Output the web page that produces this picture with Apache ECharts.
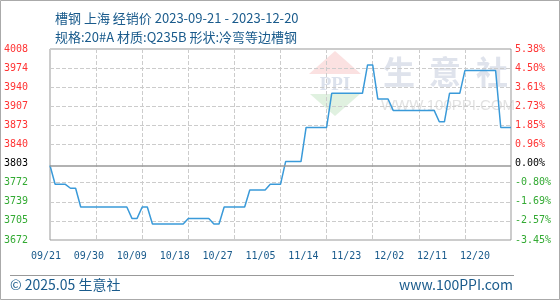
<!DOCTYPE html>
<html>
<head>
<meta charset="utf-8">
<script src="https://cdn.jsdelivr.net/npm/echarts@6/dist/echarts.min.js"></script>
<style>
  html, body { margin: 0; padding: 0; background: #fff; }
  #chart { width: 560px; height: 300px; }
</style>
</head>
<body>
<div id="chart"></div>
<script>
// daily dates 2023-09-21 .. 2023-12-20
const dates = [
  '09/21', '09/22', '09/23', '09/24', '09/25', '09/26', '09/27', '09/28', '09/29', '09/30',
  '10/01', '10/02', '10/03', '10/04', '10/05', '10/06', '10/07', '10/08', '10/09', '10/10',
  '10/11', '10/12', '10/13', '10/14', '10/15', '10/16', '10/17', '10/18', '10/19', '10/20',
  '10/21', '10/22', '10/23', '10/24', '10/25', '10/26', '10/27', '10/28', '10/29', '10/30',
  '10/31', '11/01', '11/02', '11/03', '11/04', '11/05', '11/06', '11/07', '11/08', '11/09',
  '11/10', '11/11', '11/12', '11/13', '11/14', '11/15', '11/16', '11/17', '11/18', '11/19',
  '11/20', '11/21', '11/22', '11/23', '11/24', '11/25', '11/26', '11/27', '11/28', '11/29',
  '11/30', '12/01', '12/02', '12/03', '12/04', '12/05', '12/06', '12/07', '12/08', '12/09',
  '12/10', '12/11', '12/12', '12/13', '12/14', '12/15', '12/16', '12/17', '12/18', '12/19',
  '12/20'
]

// 经销价 (元/吨)
const prices = [
  3803, 3770, 3770, 3770, 3763, 3763, 3730, 3730, 3730, 3730,
  3730, 3730, 3730, 3730, 3730, 3730, 3710, 3710, 3730, 3730,
  3700, 3700, 3700, 3700, 3700, 3700, 3700, 3710, 3710, 3710,
  3710, 3710, 3700, 3700, 3730, 3730, 3730, 3730, 3730, 3760,
  3760, 3760, 3760, 3770, 3770, 3770, 3810, 3810, 3810, 3810,
  3870, 3870, 3870, 3870, 3870, 3930, 3930, 3930, 3930, 3930,
  3930, 3930, 3980, 3980, 3920, 3920, 3920, 3900, 3900, 3900,
  3900, 3900, 3900, 3900, 3900, 3900, 3880, 3880, 3930, 3930,
  3930, 3970, 3970, 3970, 3970, 3970, 3970, 3970, 3870, 3870,
  3870
]

const basePrice = 3803
const dateTicks = ['09/21', '09/30', '10/09', '10/18', '10/27', '11/05', '11/14', '11/23', '12/02', '12/11', '12/20']
const priceTicks = ['3672', '3705', '3739', '3772', '3803', '3840', '3873', '3907', '3940', '3974', '4008']
const pctTicks = ['-3.45%', '-2.57%', '-1.69%', '-0.80%', '0.00%', '0.96%', '1.85%', '2.73%', '3.61%', '4.50%', '5.38%']

const blue = '#1a5b8c'
const mono = 'DejaVu Sans Mono'
const cjk = 'Noto Sans CJK SC'

function signColor(value) {
  const v = parseFloat(value)
  const base = String(value).indexOf('%') >= 0 ? 0 : basePrice
  if (v > base) return '#ff3333'
  if (v < base) return '#33aa33'
  return '#000'
}

// middle grid line is replaced by the solid base line
const splitColors = priceTicks.map((t, i) => i === 4 ? 'rgba(0,0,0,0)' : '#cccccc')

const chart = echarts.init(document.getElementById('chart'))
chart.setOption({
  animation: false,
  backgroundColor: '#fff',
  title: [{
    text: '槽钢 上海 经销价 2023-09-21 - 2023-12-20',
    left: 50,
    top: 7,
    textStyle: { fontSize: 13, fontWeight: 'normal', color: blue, fontFamily: cjk }
  }, {
    text: '规格:20#A 材质:Q235B 形状:冷弯等边槽钢',
    left: 50,
    top: 26,
    textStyle: { fontSize: 13, fontWeight: 'normal', color: blue, fontFamily: cjk }
  }],
  grid: [
    { left: 50, right: 49, top: 49, bottom: 60, show: true, borderColor: '#999', borderWidth: 1 },
    { left: 46, right: 85, top: 49, bottom: 60, show: false }
  ],
  xAxis: [{
    gridIndex: 0,
    type: 'category',
    data: dates,
    boundaryGap: false,
    axisLine: { show: false },
    axisTick: { show: false },
    axisLabel: { show: false },
    splitLine: { show: true, interval: 8, lineStyle: { type: 'dashed', color: '#cccccc' } }
  }, {
    gridIndex: 1,
    type: 'category',
    data: dateTicks,
    boundaryGap: false,
    axisLine: { show: false },
    axisTick: { show: false },
    splitLine: { show: false },
    axisLabel: { interval: 0, margin: 11, color: blue, fontSize: 10, fontFamily: mono }
  }],
  yAxis: [{
    gridIndex: 0,
    type: 'category',
    position: 'left',
    data: priceTicks,
    boundaryGap: false,
    axisLine: { show: false },
    axisTick: { show: false },
    axisLabel: { interval: 0, margin: 22, fontSize: 10, fontFamily: mono, color: signColor },
    splitLine: { show: true, interval: 0, lineStyle: { type: 'dashed', color: splitColors } }
  }, {
    gridIndex: 0,
    type: 'category',
    position: 'right',
    data: pctTicks,
    boundaryGap: false,
    axisLine: { show: false },
    axisTick: { show: false },
    axisLabel: { interval: 0, margin: 4, fontSize: 10, fontFamily: mono, color: signColor },
    splitLine: { show: false }
  }, {
    gridIndex: 0,
    type: 'value',
    min: 3672,
    max: 4008,
    show: false
  }, {
    gridIndex: 1,
    type: 'value',
    show: false
  }],
  graphic: [
    // watermark
    { type: 'polygon', z: -1, shape: { points: [[309, 74], [335, 51], [361, 74]] }, style: { fill: '#fbe1e1' } },
    { type: 'text', z: -1, x: 335, y: 85, style: { text: 'PPI', fontSize: 19, fontFamily: 'Liberation Serif', fontWeight: 'bold', fill: '#dbe1ec', align: 'center', verticalAlign: 'middle' } },
    { type: 'polygon', z: -1, shape: { points: [[310, 94], [360, 94], [335, 116]] }, style: { fill: '#e0f1e0' } },
    { type: 'text', z: -1, x: 399, y: 72, style: { text: '生', fontSize: 32, fontFamily: cjk, fontWeight: 'bold', fill: '#dfe3ec', align: 'center', verticalAlign: 'middle' } },
    { type: 'text', z: -1, x: 445, y: 72, style: { text: '意', fontSize: 32, fontFamily: cjk, fontWeight: 'bold', fill: '#dfe3ec', align: 'center', verticalAlign: 'middle' } },
    { type: 'text', z: -1, x: 492, y: 72, style: { text: '社', fontSize: 32, fontFamily: cjk, fontWeight: 'bold', fill: '#dfe3ec', align: 'center', verticalAlign: 'middle' } },
    { type: 'text', z: -1, x: 448, y: 106, style: { text: 'WWW.100PPI.COM', fontSize: 15, fontFamily: 'Liberation Sans', fill: '#e2e2e2', align: 'center', verticalAlign: 'middle' } },
    // footer
    { type: 'line', shape: { x1: 10, y1: 275.5, x2: 514, y2: 275.5 }, style: { stroke: '#999', lineWidth: 1 } },
    { type: 'text', x: 10, y: 285, style: { text: '© 2025.05 生意社', fontSize: 14, fontFamily: cjk, fill: blue, verticalAlign: 'middle' } },
    { type: 'text', x: 513, y: 285, style: { text: 'www.100PPI.com', fontSize: 14, fontFamily: cjk, fill: blue, align: 'right', verticalAlign: 'middle' } },
    // outer frame
    { type: 'rect', shape: { x: 0.5, y: 0.5, width: 559, height: 299 }, style: { fill: 'none', stroke: '#aaa', lineWidth: 1 } }
  ],
  series: [{
    name: '经销价',
    type: 'line',
    xAxisIndex: 0,
    yAxisIndex: 2,
    data: prices,
    symbol: 'none',
    lineStyle: { color: '#3a9ad9', width: 1.5 },
    markLine: {
      silent: true,
      symbol: 'none',
      label: { show: false },
      lineStyle: { color: '#999', type: 'solid', width: 1.5 },
      data: [{ yAxis: basePrice }]
    }
  }]
})
</script>
</body>
</html>
